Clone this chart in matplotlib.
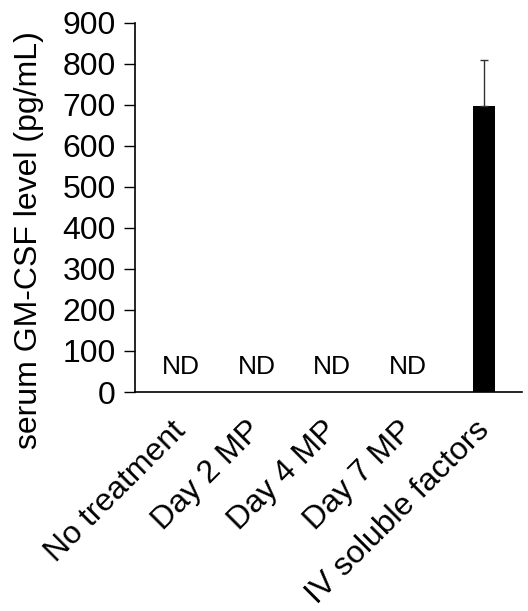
import matplotlib
matplotlib.use("Agg")
import matplotlib.pyplot as plt
import matplotlib.transforms as mtransforms
import numpy as np

# data
categories = ["No treatment", "Day 2 MP", "Day 4 MP", "Day 7 MP", "IV soluble factors"]
values = [0, 0, 0, 0, 698]
errors = [0, 0, 0, 0, 110]
nd_flags = [True, True, True, True, False]

plt.rcParams['font.family'] = ['Liberation Sans', 'DejaVu Sans']

fig = plt.figure(figsize=(5.28, 6.11), dpi=100)
ax = fig.add_axes([0.2557, 0.3584, 0.7329, 0.6046])

x = np.arange(len(categories))
ax.bar(x, values, width=0.3, color="black")
for xi, v, e in zip(x, values, errors):
    if e > 0:
        ax.errorbar(xi, v, yerr=[[0], [e]], fmt="none", ecolor="#333333",
                    elinewidth=1, capsize=3, capthick=1)

# "ND" for not detected
for xi, nd in zip(x, nd_flags):
    if nd:
        ax.text(xi, 60, "ND", ha="center", va="center", fontsize=19)

ax.set_xlim(-0.6, 4.5)
ax.set_ylim(0, 900)
ax.set_yticks(np.arange(0, 901, 100))
ax.tick_params(axis="y", labelsize=23, length=8, width=1, direction="out", pad=6)
ax.tick_params(axis="x", length=0, labelsize=23, pad=17)
ax.set_xticks(x)
ax.set_xticklabels(categories, rotation=45, ha="right", rotation_mode="anchor")
# nudge rotated labels a little to the left
shift = mtransforms.ScaledTranslation(-10 / 100, 0, fig.dpi_scale_trans)
for lbl in ax.get_xticklabels():
    lbl.set_transform(lbl.get_transform() + shift)

ax.set_ylabel("serum GM-CSF level (pg/mL)", fontsize=23)
ax.yaxis.set_label_coords(-0.235, 0.41)

ax.spines["top"].set_visible(False)
ax.spines["right"].set_visible(False)
ax.spines["left"].set_linewidth(1.2)
ax.spines["bottom"].set_linewidth(1.2)

fig.savefig("out.png", dpi=100)
